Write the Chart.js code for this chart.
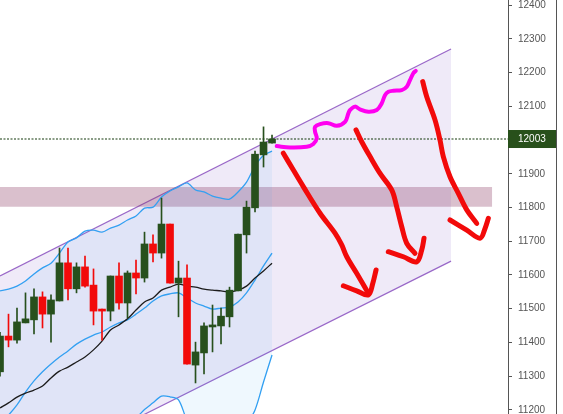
<!DOCTYPE html>
<html>
<head>
<meta charset="utf-8">
<script src="https://cdn.jsdelivr.net/npm/chart.js@4.4.1/dist/chart.umd.min.js"></script>
<style>
  body { margin: 0; background: #fff; }
  canvas { display: block; }
</style>
</head>
<body>
<canvas id="chart" width="563" height="414"></canvas>
<script>
// ================= DATA =================
const opens  = [11313, 11419, 11407, 11458, 11467, 11535, 11484, 11523, 11636, 11559, 11624, 11570, 11499, 11493, 11597, 11517, 11606, 11591, 11692, 11665, 11751, 11576, 11591, 11333, 11369, 11446, 11449, 11476, 11553, 11719, 11799, 11956, 11991];
const closes = [11419, 11407, 11461, 11470, 11535, 11484, 11526, 11636, 11559, 11624, 11567, 11493, 11493, 11597, 11517, 11606, 11591, 11692, 11665, 11751, 11576, 11591, 11336, 11372, 11449, 11452, 11478, 11555, 11721, 11801, 11958, 11994, 12003];
const highs  = [11430, 11484, 11502, 11547, 11559, 11550, 11541, 11680, 11680, 11636, 11656, 11618, 11499, 11597, 11636, 11612, 11644, 11727, 11719, 11828, 11751, 11641, 11630, 11401, 11458, 11511, 11502, 11564, 11721, 11819, 11967, 12039, 12015];
const lows   = [11300, 11387, 11398, 11458, 11425, 11443, 11401, 11523, 11526, 11547, 11564, 11452, 11407, 11464, 11499, 11473, 11544, 11579, 11639, 11650, 11576, 11476, 11336, 11280, 11307, 11372, 11396, 11446, 11553, 11665, 11787, 11920, 11991];

// bollinger bands + moving average
const upperBand = [11553, 11558, 11567, 11582, 11603, 11621, 11635, 11665, 11698, 11710, 11730, 11733, 11727, 11739, 11748, 11763, 11775, 11798, 11801, 11831, 11849, 11861, 11873, 11852, 11846, 11834, 11828, 11825, 11846, 11875, 11923, 11955, 11967];
const midBand   = [11162, 11185, 11215, 11253, 11286, 11313, 11336, 11357, 11375, 11395, 11410, 11422, 11431, 11446, 11458, 11467, 11484, 11502, 11523, 11538, 11544, 11547, 11532, 11517, 11508, 11499, 11502, 11505, 11520, 11547, 11585, 11627, 11665];
const lowerBand = [10770, 10810, 10860, 10920, 10970, 11005, 11035, 11050, 11055, 11080, 11090, 11110, 11135, 11150, 11165, 11172, 11178, 11201, 11221, 11241, 11239, 11230, 11170, 11140, 11120, 11110, 11115, 11125, 11140, 11160, 11200, 11283, 11363];
const maLine    = [11206, 11221, 11238, 11250, 11259, 11271, 11295, 11315, 11327, 11342, 11357, 11378, 11404, 11437, 11452, 11470, 11496, 11520, 11532, 11555, 11564, 11573, 11567, 11564, 11558, 11555, 11553, 11550, 11555, 11567, 11591, 11612, 11635];

// drawings: [barIndex, price]
const channelTop = [[0, 11597], [53.06, 12270]];
const channelBottom = [[0, 10973], [53.06, 11641]];
const zoneTop = [[0, 11861], [57.9, 11861]];
const zoneBottom = [[0, 11802], [57.9, 11802]];

const wavePath = [[32.55, 11982], [34.12, 11978], [36.08, 11980], [36.86, 11988], [37.26, 12005], [37.06, 12025], [37.06, 12039], [37.65, 12047], [38.62, 12050], [39.61, 12042], [40.59, 12054], [40.98, 12079], [41.18, 12089], [41.76, 12099], [42.35, 12091], [43.33, 12084], [44.32, 12089], [44.91, 12109], [45.29, 12133], [45.69, 12143], [46.27, 12146], [47.26, 12148], [47.85, 12158], [48.24, 12178], [48.62, 12198], [48.91, 12205]];

const arrow1 = [[33.33, 11961], [34.51, 11911], [35.68, 11862], [37.65, 11783], [39.41, 11724], [40.2, 11689], [40.79, 11654], [41.96, 11605], [43.33, 11546]];
const arrow1Head = [[40.39, 11568], [41.96, 11553], [43.33, 11541], [43.85, 11575], [44.24, 11615]];
const arrow2 = [[41.88, 12030], [42.55, 11995], [43.53, 11951], [44.71, 11901], [46.08, 11852], [46.67, 11802], [47.26, 11743], [47.85, 11694], [48.82, 11664]];
const arrow2Head = [[45.68, 11669], [47.45, 11654], [49.02, 11639], [49.61, 11674], [49.88, 11709]];
const arrow3 = [[49.73, 12173], [50.2, 12128], [51.18, 12059], [51.76, 12000], [52.15, 11951], [52.94, 11891], [53.92, 11842], [54.91, 11793], [56.08, 11753]];
const arrow3Head = [[52.94, 11763], [54.91, 11733], [56.47, 11709], [57.06, 11738], [57.45, 11768]];

const yTicks = [11200, 11300, 11400, 11500, 11600, 11700, 11800, 11900, 12100, 12200, 12300, 12400];
const lastPrice = 12003;
const xMax = 59.76;

const GREEN = "#27501d";
const RED = "#f20a0a";

// ================= HELPERS =================
const pts = arr => arr.map(p => ({ x: p[0], y: p[1] }));
const series = arr => arr.map((v, i) => ({ x: i, y: v }));
const candleColors = opens.map((o, i) => (closes[i] >= o ? GREEN : RED));

function lineSet(data, color, width, order, extra) {
  return Object.assign({
    type: "line",
    data: data,
    borderColor: color,
    borderWidth: width,
    pointRadius: 0,
    fill: false,
    order: order
  }, extra || {});
}

function stroke(data, color, width) {
  return lineSet(pts(data), color, width, 0, {
    tension: 0.35,
    borderCapStyle: "round",
    borderJoinStyle: "round"
  });
}

// ================= LAST PRICE TAG =================
const priceTag = {
  id: "priceTag",
  afterDraw(chart) {
    const { ctx, chartArea } = chart;
    const y = chart.scales.y;
    const py = y.getPixelForValue(lastPrice);
    ctx.save();
    ctx.fillStyle = "#28501b";
    ctx.fillRect(chartArea.right, py - 9, 48, 18);
    ctx.fillStyle = "#ffffff";
    ctx.font = '10px "Liberation Sans", Arial, sans-serif';
    ctx.textBaseline = "middle";
    ctx.fillText(String(lastPrice), chartArea.right + 10, py);
    // outer border of the price scale
    ctx.strokeStyle = "#555";
    ctx.lineWidth = 1;
    ctx.beginPath();
    ctx.moveTo(chartArea.right + 48.5, 0);
    ctx.lineTo(chartArea.right + 48.5, chart.height);
    ctx.stroke();
    ctx.restore();
  }
};

// ================= CHART =================
new Chart(document.getElementById("chart"), {
  type: "bar",
  data: {
    datasets: [
      // hand drawn strokes (on top)
      stroke(wavePath, "#ff00f0", 4),
      stroke(arrow1, RED, 5),
      stroke(arrow1Head, RED, 5),
      stroke(arrow2, RED, 5),
      stroke(arrow2Head, RED, 5),
      stroke(arrow3, RED, 5),
      stroke(arrow3Head, RED, 5),

      // candle bodies
      {
        data: opens.map((o, i) => ({ x: i, y: [o, closes[i]] })),
        backgroundColor: candleColors,
        barThickness: 7,
        minBarLength: 1,
        grouped: false,
        order: 2
      },
      // wicks
      {
        data: highs.map((h, i) => ({ x: i, y: [lows[i], h] })),
        backgroundColor: candleColors,
        barThickness: 1,
        grouped: false,
        order: 3
      },

      // last price dotted line
      lineSet(pts([[0, lastPrice], [xMax, lastPrice]]), "#143a0c", 1.2, 4, { borderDash: [2, 1.5] }),

      // indicators
      lineSet(series(maLine), "#1c1c1c", 1.3, 5, { tension: 0.3 }),
      lineSet(series(midBand), "#33a0f2", 1.3, 5, { tension: 0.3 }),
      lineSet(series(upperBand), "#33a0f2", 1.3, 6, { tension: 0.3, fill: "+1", backgroundColor: "rgba(33,150,243,0.07)" }),
      lineSet(series(lowerBand), "#33a0f2", 1.3, 6, { tension: 0.3 }),

      // support / resistance zone
      lineSet(pts(zoneTop), "rgba(0,0,0,0)", 0, 8, { fill: "+1", backgroundColor: "rgba(140,60,100,0.32)" }),
      lineSet(pts(zoneBottom), "rgba(0,0,0,0)", 0, 8),

      // parallel channel
      lineSet(pts(channelTop), "#9a68c8", 1.2, 9, { fill: "+1", backgroundColor: "rgba(149,117,205,0.15)" }),
      lineSet(pts(channelBottom), "#9a68c8", 1.2, 9)
    ]
  },
  options: {
    responsive: false,
    animation: false,
    layout: { padding: 0 },
    plugins: {
      legend: { display: false },
      tooltip: { enabled: false }
    },
    scales: {
      x: {
        type: "linear",
        display: false,
        offset: false,
        min: 0,
        max: xMax
      },
      y: {
        position: "right",
        min: 11188,
        max: 12415,
        afterBuildTicks: scale => {
          scale.ticks = yTicks.map(v => ({ value: v }));
        },
        afterFit: scale => {
          scale.width = 55;
          scale.paddingTop = 0;
          scale.paddingBottom = 0;
        },
        grid: {
          drawOnChartArea: false,
          color: "#555",
          tickLength: 4
        },
        border: { color: "#555" },
        ticks: {
          color: "#555",
          padding: 6,
          font: { family: '"Liberation Sans", Arial, sans-serif', size: 10 },
          callback: value => String(value)
        }
      }
    }
  },
  plugins: [priceTag]
});
</script>
</body>
</html>
